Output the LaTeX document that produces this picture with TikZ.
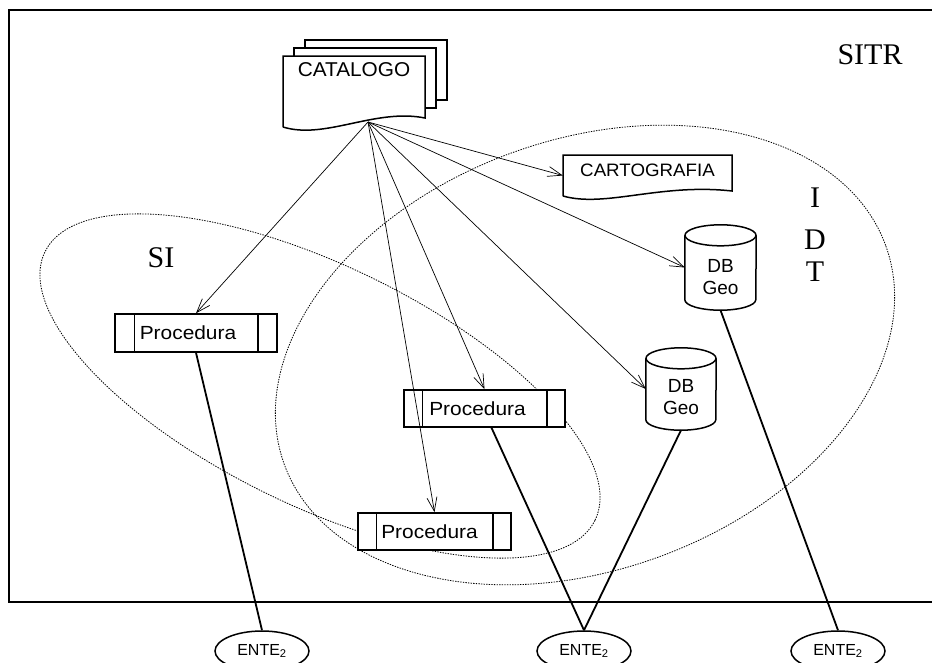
\documentclass[tikz,border=0pt]{standalone}
\usepackage{graphicx}
\usepackage{fontspec}
\setmainfont{Liberation Sans}
\newfontfamily\seriffont{Liberation Serif}
\usetikzlibrary{arrows.meta,shapes.geometric}
\begin{document}
\begin{tikzpicture}[x=1pt,y=-1pt,
  frame/.style={line width=1.8pt},
  region/.style={line width=0.8pt, dash pattern=on 1.4pt off 1.2pt},
  sheet/.style={line width=1.5pt, line join=miter, fill=white},
  outline/.style={line width=1.5pt},
  procbox/.style={draw, fill=white, line width=1.5pt, minimum height=37pt, inner sep=0pt},
  ptext/.style={font=\fontsize{19}{19}\selectfont, inner sep=0pt},
  doctext/.style={font=\fontsize{18}{18}\selectfont, inner sep=0pt},
  dbtext/.style={font=\fontsize{19}{22}\selectfont, align=center, inner sep=0pt},
  hold/.style={inner sep=0pt, minimum width=#1},
  link/.style={line width=0.7pt, -{Straight Barb[length=14pt,width=10pt]}},
  wire/.style={line width=1.8pt},
  ente/.style={draw, fill=white, ellipse, line width=1.5pt, minimum width=94pt,
    minimum height=40pt, inner sep=0pt, font=\fontsize{16}{16}\selectfont},
  biglabel/.style={font=\seriffont\fontsize{30}{30}\selectfont, inner sep=0pt},
]
\clip (0,0) rectangle (932,662);
\fill[white] (0,0) rectangle (932,662);

% SITR frame (continues past the right edge)
\draw[frame] (950,10) -- (9,10) -- (9,602) -- (950,602);

% SI and IDT regions
\draw[region, rotate around={-26:(320,386)}] (320,386) ellipse [x radius=306pt, y radius=120pt];
\draw[region, rotate around={20:(585,355)}] (585,355) ellipse [x radius=320pt, y radius=215pt];

% labels
\node[biglabel] (sitr) at (870,55) {SITR};
\node[biglabel] (si) at (161,258) {SI};
\node[biglabel] (idtI) at (815,198) {I};
\node[biglabel] (idtD) at (815,240) {D};
\node[biglabel] (idtT) at (815,272) {T};

% CATALOGO: stacked documents
\draw[sheet] (305,56) -- (305,40) -- (447,40) -- (447,100) -- (436,100) -- (436,56) -- cycle;
\draw[sheet] (294,64) -- (294,48) -- (436,48) -- (436,108) -- (425,108) -- (425,64) -- cycle;
\draw[sheet] (283,127) -- (283,56) -- (425,56) -- (425,118)
  .. controls (375,108) and (325,140) .. (283,127);
\draw[outline] (305,48) -- (305,40) -- (447,40) -- (447,100) -- (436,100);
\draw[outline] (294,56) -- (294,48) -- (436,48) -- (436,108) -- (425,108);
\node[doctext, font=\fontsize{20}{20}\selectfont] (cat) at (354,70) {\scalebox{1.04}[1]{CATALOGO}};
\coordinate (catout) at (368,122);

% CARTOGRAFIA: single document
\node[hold=169pt, minimum height=41pt] (carto) at (647.5,175.5) {};
\draw[sheet] (563,196) -- (563,155) -- (732,155) -- (732,191)
  .. controls (660,183) and (605,208) .. (563,196);
\node[doctext] (cartotxt) at (647.5,170) {\scalebox{1.04}[1]{CARTOGRAFIA}};

% DB Geo cylinders
\node[hold=71pt, minimum height=85pt] (c1) at (720.5,267.5) {};
\node[hold=70pt, minimum height=82pt] (c2) at (681,389) {};
\foreach \c/\r in {c1/35.5pt, c2/35pt}{
  \fill[white] ([yshift=-10.5pt]\c.north west) rectangle ([yshift=10.5pt]\c.south east);
  \fill[white] ([yshift=10.5pt]\c.south) ellipse [x radius=\r, y radius=10.5pt];
  \draw[outline] ([yshift=-10.5pt]\c.north) ellipse [x radius=\r, y radius=10.5pt];
  \draw[outline] ([yshift=-10.5pt]\c.north west) -- ([yshift=10.5pt]\c.south west)
    arc [start angle=180, end angle=360, x radius=\r, y radius=10.5pt]
    -- ([yshift=-10.5pt]\c.north east);
}
\node[dbtext] (c1t) at ([yshift=-9.5pt]c1.center) {DB\\Geo};
\node[dbtext] (c2t) at ([yshift=-8pt]c2.center) {DB\\Geo};

% Procedura boxes
\node[procbox, minimum width=162pt, minimum height=38pt] (p1) at (196,333) {};
\node[procbox, minimum width=161pt] (p2) at (484.5,408.5) {};
\node[procbox, minimum width=153pt] (p3) at (434.5,531.5) {};
\foreach \p/\d in {p1/20pt, p2/19pt, p3/19pt}{
  \draw[outline] ([xshift=\d]\p.north west) -- ([xshift=\d]\p.south west);
  \draw[outline] ([xshift=-\d]\p.north east) -- ([xshift=-\d]\p.south east);
}
\node[ptext] (p1t) at ([xshift=-8pt]p1.center) {\scalebox{1.1}[1]{Procedura}};
\node[ptext] (p2t) at ([xshift=-7pt]p2.center) {\scalebox{1.1}[1]{Procedura}};
\node[ptext] (p3t) at ([xshift=-5pt]p3.center) {\scalebox{1.1}[1]{Procedura}};

% catalogue references
\draw[link] (catout) -- (p1.north);
\draw[link] (catout) -- (p3.north);
\draw[link] (catout) -- (p2.north);
\draw[link] (catout) -- (c2.west);
\draw[link] (catout) -- (c1.west);
\draw[link] (catout) -- (carto.west);

% ENTE endpoints
\node[ente] (e1) at (262,651) {ENTE\textsubscript{2}};
\node[ente] (e2) at (584,651) {ENTE\textsubscript{2}};
\node[ente] (e3) at (838,651) {ENTE\textsubscript{2}};

\draw[wire] (p1.south) -- (e1.north);
\draw[wire] ([xshift=7pt]p2.south) -- (e2.north);
\draw[wire] (c2.south) -- (e2.north);
\draw[wire] (c1.south) -- (e3.north);
\end{tikzpicture}
\end{document}
